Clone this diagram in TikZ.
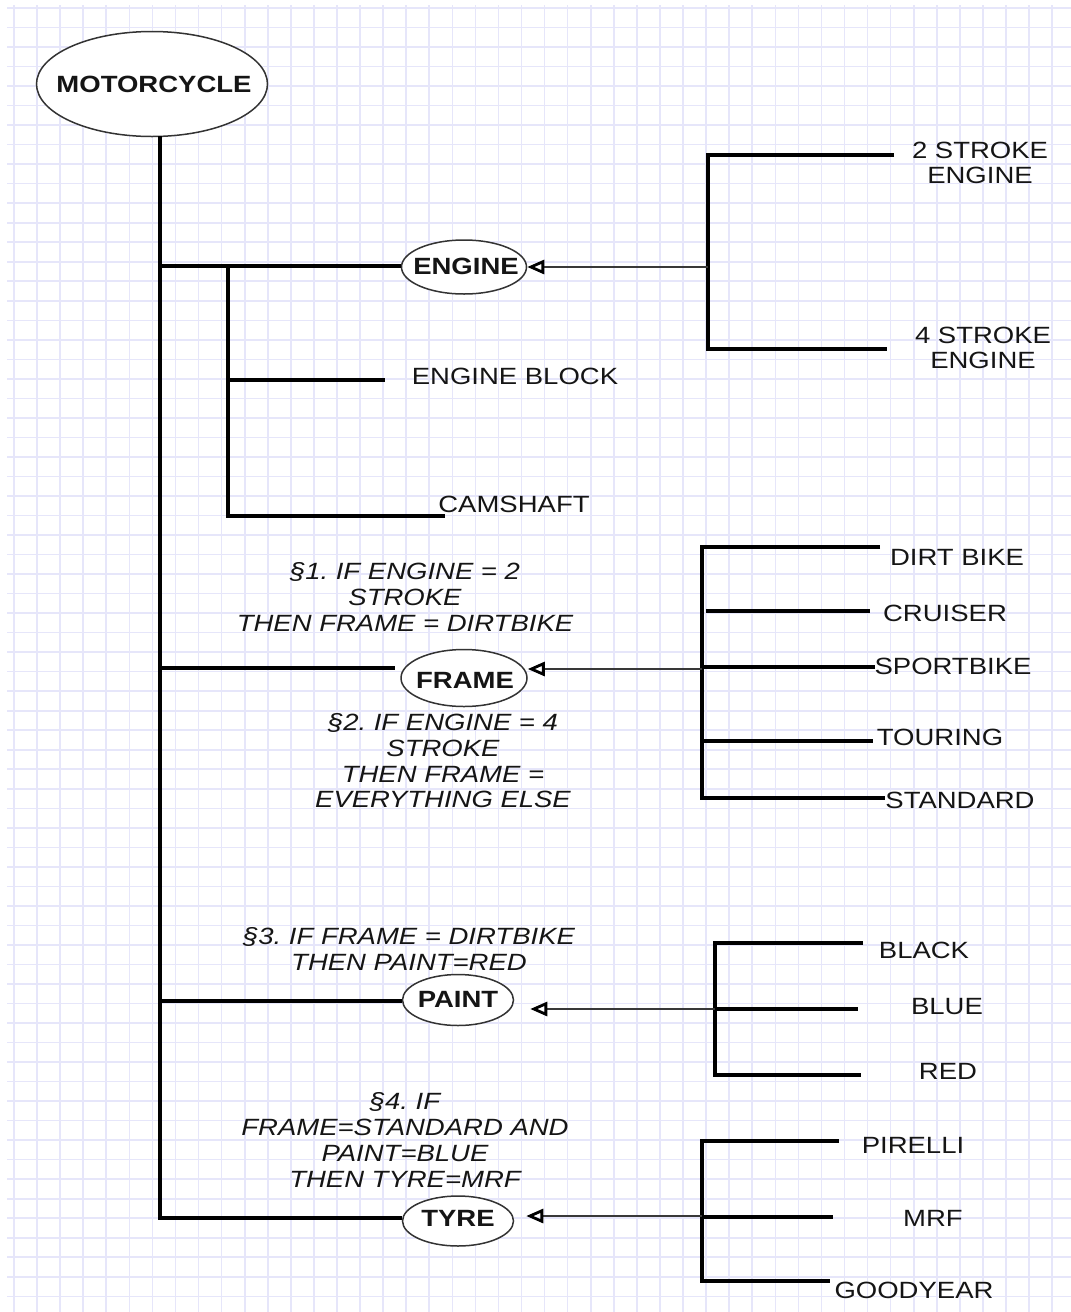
\documentclass[tikz,border=0pt]{standalone}
\usepackage{fontspec}
\setmainfont{Liberation Sans}[FakeStretch=1.17]
\usetikzlibrary{shapes.geometric,arrows.meta}
\definecolor{gridc}{HTML}{E6E6FA}
\definecolor{txt}{HTML}{151515}
\definecolor{thinc}{HTML}{383838}
\begin{document}
\frenchspacing
\begin{tikzpicture}[x=1pt,y=-1pt,
  every node/.style={font=\fontsize{23.5}{25.7}\selectfont, text=txt, inner sep=0pt},
  oval/.style={ellipse, draw=black!80, line width=1.5pt, fill=white, inner sep=0pt},
  boldlbl/.style={font=\fontsize{23.5}{25.7}\selectfont\bfseries},
  rulelbl/.style={align=center, font=\fontsize{23.5}{25.7}\selectfont\itshape},
  twoline/.style={align=center},
  thickl/.style={line width=3.5pt, black},
  thinl/.style={line width=2.4pt, thinc},
  tip/.style={-{Triangle[open, length=17pt, width=14pt, line width=2.8pt, color=black]}},
  gridl/.style={gridc, line width=1.6pt}]
% background and grid
\useasboundingbox (0,0) rectangle (1071,1312);
\fill[white] (0,0) rectangle (1071,1312);
\foreach \k in {0,...,45} \draw[gridl] ({14+\k*23.07},5) -- ({14+\k*23.07},1312);
\foreach \k in {0,...,66} \draw[gridl] (7,{8+\k*19.52}) -- (1071,{8+\k*19.52});

% ellipses
\node[oval, minimum width=231pt, minimum height=105pt] (motor) at (152,84) {};
\node[boldlbl] (motorT) at (154,84) {MOTORCYCLE};
\node[oval, minimum width=125pt, minimum height=54pt] (engine) at (464,267) {};
\node[boldlbl] (engineT) at (466,266) {ENGINE};
\node[oval, minimum width=126pt, minimum height=57pt] (frame) at (464,678) {};
\node[boldlbl] (frameT) at (465,680) {FRAME};
\node[oval, minimum width=111pt, minimum height=51pt] (paint) at (458,1000) {};
\node[boldlbl] (paintT) at (458,999) {PAINT};
\node[oval, minimum width=111pt, minimum height=50pt] (tyre) at (458,1221) {};
\node[boldlbl] (tyreT) at (458,1218) {TYRE};

% trunk
\coordinate (t0) at (160,136);
\coordinate (tE) at (160,266);
\coordinate (tF) at (160,668);
\coordinate (tP) at (160,1001);
\coordinate (tT) at (160,1218);
\draw[thickl] (t0) -- (tT) -- (tT -| tyre.west);
\draw[thickl] (tE) -- (tE -| engine.west);
\draw[thickl] (tF) -- ([xshift=-5pt]tF -| frame.west);
\draw[thickl] (tP) -- (tP -| paint.west);

% engine sub-branch
\coordinate (sE) at (228,266);
\coordinate (sB) at (228,380);
\coordinate (sC) at (228,516);
\coordinate (sBe) at (385,380);
\coordinate (sCe) at (445,516);
\draw[thickl] (sE) -- (sC) -- (sCe);
\draw[thickl] (sB) -- (sBe);
\node (eblock) at (515,376) {ENGINE BLOCK};
\node (cam) at (514,504) {CAMSHAFT};

% engine bracket
\coordinate (eT) at (708,155);
\coordinate (eB) at (708,349);
\coordinate (eTe) at (894,155);
\coordinate (eBe) at (887,349);
\coordinate (bE) at (708,267);
\draw[thickl] (eTe) -- (eT) -- (eB) -- (eBe);
\draw[thinl, tip] (bE) -- (bE -| engine.east);
\node[twoline] (s2) at (980,163) {2 STROKE\\ENGINE};
\node[twoline] (s4) at (983,348) {4 STROKE\\ENGINE};

% frame bracket
\coordinate (fT) at (702,547);
\coordinate (fB) at (702,798);
\coordinate (f1) at (880,547);
\coordinate (f2a) at (706,611);
\coordinate (f2) at (870,611);
\coordinate (f3a) at (702,667);
\coordinate (f3) at (875,667);
\coordinate (f4a) at (704,741);
\coordinate (f4) at (873,741);
\coordinate (f5) at (885,798);
\coordinate (bF) at (702,669);
\draw[thickl] (f1) -- (fT) -- (fB) -- (f5);
\draw[thickl] (f2a) -- (f2);
\draw[thickl] (f3a) -- (f3);
\draw[thickl] (f4a) -- (f4);
\draw[thinl, tip] (bF) -- (bF -| frame.east);
\node (dirt) at (957,557) {DIRT BIKE};
\node (cruiser) at (945,613) {CRUISER};
\node (sport) at (953,666) {SPORTBIKE};
\node (touring) at (940,737) {TOURING};
\node (standard) at (960,800) {STANDARD};

% paint bracket
\coordinate (pT) at (715,943);
\coordinate (pB) at (715,1075);
\coordinate (p1) at (863,943);
\coordinate (p2a) at (715,1009);
\coordinate (p2) at (858,1009);
\coordinate (p3) at (861,1075);
\coordinate (bP) at (715,1009);
\draw[thickl] (p1) -- (pT) -- (pB) -- (p3);
\draw[thickl] (p2a) -- (p2);
\draw[thinl, tip] (bP) -- ([xshift=16pt]bP -| paint.east);
\node (black) at (924,950) {BLACK};
\node (blue) at (947,1007) {BLUE};
\node (red) at (948,1071) {RED};

% tyre bracket
\coordinate (yT) at (702,1141);
\coordinate (yB) at (702,1281);
\coordinate (y1) at (839,1141);
\coordinate (y2a) at (702,1217);
\coordinate (y2) at (833,1217);
\coordinate (y3) at (830,1281);
\coordinate (bT) at (702,1216);
\draw[thickl] (y1) -- (yT) -- (yB) -- (y3);
\draw[thickl] (y2a) -- (y2);
\draw[thinl, tip] (bT) -- ([xshift=12pt]bT -| tyre.east);
\node (pirelli) at (913,1145) {PIRELLI};
\node (mrf) at (933,1218) {MRF};
\node (goodyear) at (914,1290) {GOODYEAR};

% rules
\node[rulelbl] (r1) at (405,597) {§1. IF ENGINE = 2\\STROKE\\THEN FRAME = DIRTBIKE};
\node[rulelbl] (r2) at (443,761) {§2. IF ENGINE = 4\\STROKE\\THEN FRAME =\\EVERYTHING ELSE};
\node[rulelbl] (r3) at (409,949) {§3. IF FRAME = DIRTBIKE\\THEN PAINT=RED};
\node[rulelbl] (r4) at (405,1140) {§4. IF\\FRAME=STANDARD AND\\PAINT=BLUE\\THEN TYRE=MRF};
\end{tikzpicture}
\end{document}
